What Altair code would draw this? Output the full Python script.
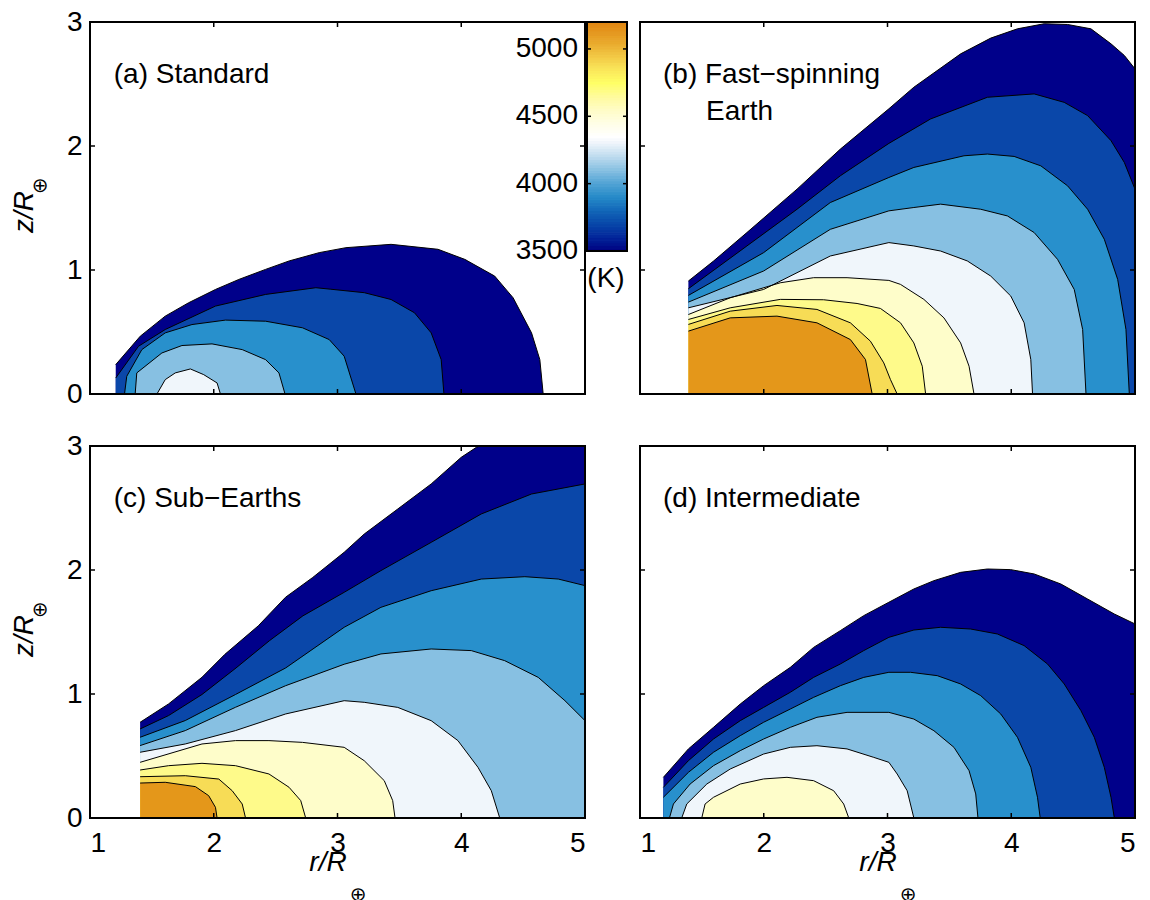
import altair as alt
import pandas as pd

FONT = "Liberation Sans"
FS = 28

LEVELS = [3500, 3700, 3900, 4100, 4300, 4500, 4700, 4900, 5100]
BAND_COLORS = ["#00008a", "#0a47a9", "#2890cc", "#87c0e2", "#f0f6fb",
               "#fefdca", "#fefa8a", "#f7dc56", "#e4971a"]

X_DOMAIN = [1, 5]
Y_DOMAIN = [0, 3]
X_TICKS = [1, 2, 3, 4, 5]
Y_TICKS = [0, 1, 2, 3]

# ---------------- panel (a) Standard ----------------
A3500_R = [1.208, 1.406, 1.608, 1.797, 2.014, 2.203, 2.419, 2.609, 2.852, 3.068, 3.433, 3.812, 4.028, 4.270, 4.419, 4.568, 4.635, 4.662]
A3500_Z = [0.237, 0.466, 0.628, 0.736, 0.843, 0.924, 1.005, 1.073, 1.140, 1.180, 1.207, 1.167, 1.086, 0.951, 0.776, 0.493, 0.277, 0.0]
A3700_R = [1.208, 1.392, 1.608, 2.014, 2.419, 2.825, 2.946, 3.217, 3.433, 3.622, 3.757, 3.838, 3.860]
A3700_Z = [0.129, 0.385, 0.520, 0.709, 0.803, 0.857, 0.845, 0.817, 0.762, 0.655, 0.493, 0.277, 0.0]
A3900_R = [1.279, 1.297, 1.419, 1.608, 1.824, 2.095, 2.419, 2.717, 2.933, 3.054, 3.149]
A3900_Z = [0.0, 0.143, 0.358, 0.493, 0.560, 0.596, 0.587, 0.534, 0.439, 0.305, 0.0]
A4100_R = [1.365, 1.378, 1.581, 1.743, 1.986, 2.230, 2.419, 2.527, 2.576]
A4100_Z = [0.0, 0.170, 0.331, 0.391, 0.404, 0.358, 0.277, 0.170, 0.0]
A4300_R = [1.541, 1.608, 1.689, 1.811, 1.919, 2.027, 2.054]
A4300_Z = [0.0, 0.116, 0.170, 0.202, 0.156, 0.089, 0.0]

# ---------------- panel (b) Fast-spinning Earth ----------------
B3500_R = [1.391, 1.594, 1.864, 2.269, 2.619, 3.011, 3.213, 3.591, 3.834, 4.050, 4.266, 4.455, 4.644, 4.806, 4.914, 5.0]
B3500_Z = [0.911, 1.072, 1.302, 1.652, 1.975, 2.300, 2.474, 2.743, 2.870, 2.945, 2.986, 2.980, 2.945, 2.824, 2.730, 2.622]
B3700_R = [1.391, 1.864, 2.269, 2.619, 3.011, 3.348, 3.807, 4.185, 4.428, 4.617, 4.806, 4.914, 5.0]
B3700_Z = [0.849, 1.194, 1.490, 1.760, 2.021, 2.218, 2.393, 2.420, 2.352, 2.245, 2.043, 1.867, 1.652]
B3900_R = [1.391, 1.999, 2.538, 3.011, 3.213, 3.618, 3.807, 4.023, 4.239, 4.455, 4.617, 4.752, 4.860, 4.927, 4.954]
B3900_Z = [0.795, 1.140, 1.544, 1.746, 1.827, 1.921, 1.935, 1.916, 1.840, 1.679, 1.490, 1.248, 0.924, 0.520, 0.0]
B4100_R = [1.391, 1.999, 2.538, 3.011, 3.213, 3.429, 3.753, 3.969, 4.185, 4.374, 4.509, 4.577, 4.604]
B4100_Z = [0.741, 0.992, 1.328, 1.477, 1.504, 1.531, 1.490, 1.436, 1.302, 1.086, 0.843, 0.520, 0.0]
B4300_R = [1.391, 1.999, 2.538, 3.011, 3.213, 3.429, 3.645, 3.834, 3.996, 4.104, 4.158, 4.172]
B4300_Z = [0.695, 0.843, 1.113, 1.221, 1.194, 1.153, 1.073, 0.951, 0.790, 0.574, 0.278, 0.0]
B4500_R = [1.391, 1.729, 2.134, 2.403, 2.673, 3.011, 3.105, 3.294, 3.456, 3.591, 3.659, 3.699]
B4500_Z = [0.641, 0.776, 0.897, 0.938, 0.938, 0.916, 0.884, 0.763, 0.614, 0.412, 0.224, 0.0]
B4700_R = [1.391, 1.729, 2.134, 2.484, 2.754, 2.943, 3.105, 3.213, 3.281, 3.308]
B4700_Z = [0.601, 0.695, 0.763, 0.760, 0.730, 0.690, 0.574, 0.412, 0.224, 0.0]
B4900_R = [1.391, 1.729, 2.107, 2.430, 2.700, 2.862, 2.970, 3.024, 3.078]
B4900_Z = [0.561, 0.668, 0.714, 0.682, 0.574, 0.426, 0.251, 0.116, 0.0]
B5100_R = [1.391, 1.729, 2.107, 2.430, 2.700, 2.822, 2.876]
B5100_Z = [0.507, 0.614, 0.628, 0.574, 0.439, 0.278, 0.0]

# ---------------- panel (c) Sub-Earths ----------------
C3500_R = [1.405, 1.635, 1.905, 2.090, 2.360, 2.580, 2.800, 3.054, 3.216, 3.487, 3.757, 4.000, 4.122, 4.150]
C3500_Z = [0.772, 0.920, 1.135, 1.320, 1.550, 1.780, 1.940, 2.143, 2.290, 2.492, 2.694, 2.909, 2.989, 3.0]
C3500_TOP_R = [5.0]
C3500_TOP_Z = [3.0]
C3700_R = [1.405, 1.635, 1.905, 2.180, 2.450, 2.720, 3.054, 3.351, 3.757, 4.162, 4.568, 5.0]
C3700_Z = [0.718, 0.826, 0.996, 1.210, 1.430, 1.630, 1.820, 1.995, 2.223, 2.452, 2.613, 2.694]
C3900_R = [1.405, 1.770, 2.176, 2.581, 3.054, 3.351, 3.757, 4.162, 4.514, 4.784, 5.0]
C3900_Z = [0.651, 0.786, 0.996, 1.210, 1.538, 1.699, 1.833, 1.927, 1.946, 1.927, 1.874]
C4100_R = [1.405, 1.770, 2.176, 2.581, 3.054, 3.351, 3.757, 4.081, 4.351, 4.622, 4.838, 5.0]
C4100_Z = [0.584, 0.705, 0.893, 1.067, 1.240, 1.323, 1.363, 1.350, 1.269, 1.134, 0.946, 0.785]
C4300_R = [1.405, 1.770, 2.176, 2.581, 3.054, 3.216, 3.487, 3.757, 3.973, 4.135, 4.243, 4.311]
C4300_Z = [0.530, 0.597, 0.705, 0.839, 0.946, 0.933, 0.892, 0.785, 0.624, 0.409, 0.220, 0.0]
C4500_R = [1.405, 1.905, 2.176, 2.446, 2.717, 3.054, 3.216, 3.378, 3.446, 3.465]
C4500_Z = [0.449, 0.597, 0.624, 0.624, 0.610, 0.570, 0.462, 0.301, 0.140, 0.0]
C4700_R = [1.405, 1.635, 1.905, 2.176, 2.446, 2.608, 2.703, 2.743]
C4700_Z = [0.387, 0.422, 0.441, 0.422, 0.355, 0.248, 0.140, 0.0]
C4900_R = [1.405, 1.770, 2.041, 2.149, 2.230, 2.257]
C4900_Z = [0.333, 0.341, 0.314, 0.220, 0.113, 0.0]
C5100_R = [1.405, 1.608, 1.852, 1.959, 2.014, 2.027]
C5100_Z = [0.282, 0.288, 0.253, 0.180, 0.086, 0.0]

# ---------------- panel (d) Intermediate ----------------
D3500_R = [1.189, 1.391, 1.594, 1.810, 1.999, 2.215, 2.403, 2.619, 2.808, 3.011, 3.213, 3.375, 3.591, 3.807, 3.996, 4.185, 4.401, 4.617, 4.833, 5.0]
D3500_Z = [0.328, 0.557, 0.731, 0.919, 1.067, 1.215, 1.376, 1.511, 1.632, 1.740, 1.847, 1.914, 1.981, 2.008, 2.003, 1.968, 1.887, 1.766, 1.645, 1.565]
D3700_R = [1.189, 1.391, 1.594, 1.810, 1.999, 2.215, 2.403, 2.619, 2.808, 3.011, 3.213, 3.429, 3.672, 3.888, 4.104, 4.293, 4.428, 4.563, 4.671, 4.752, 4.806, 4.833]
D3700_Z = [0.247, 0.462, 0.637, 0.785, 0.892, 1.014, 1.134, 1.242, 1.350, 1.457, 1.516, 1.538, 1.524, 1.484, 1.390, 1.242, 1.081, 0.866, 0.651, 0.409, 0.167, 0.0]
D3900_R = [1.189, 1.391, 1.594, 1.810, 1.999, 2.215, 2.403, 2.619, 2.808, 3.011, 3.186, 3.402, 3.591, 3.753, 3.915, 4.050, 4.158, 4.212, 4.234]
D3900_Z = [0.167, 0.368, 0.530, 0.664, 0.772, 0.879, 0.973, 1.067, 1.134, 1.175, 1.175, 1.148, 1.081, 0.987, 0.839, 0.651, 0.409, 0.167, 0.0]
D4100_R = [1.238, 1.270, 1.405, 1.594, 1.810, 1.999, 2.215, 2.430, 2.673, 3.011, 3.213, 3.375, 3.537, 3.659, 3.713, 3.731]
D4100_Z = [0.0, 0.113, 0.274, 0.422, 0.543, 0.637, 0.731, 0.812, 0.852, 0.852, 0.798, 0.704, 0.570, 0.382, 0.194, 0.0]
D4300_R = [1.337, 1.378, 1.540, 1.729, 1.999, 2.215, 2.430, 2.673, 2.889, 3.011, 3.078, 3.159, 3.213]
D4300_Z = [0.0, 0.113, 0.274, 0.395, 0.516, 0.570, 0.583, 0.557, 0.489, 0.449, 0.355, 0.220, 0.0]
D4500_R = [1.499, 1.526, 1.594, 1.810, 1.999, 2.188, 2.403, 2.565, 2.646, 2.687]
D4500_Z = [0.0, 0.113, 0.167, 0.274, 0.315, 0.328, 0.301, 0.220, 0.113, 0.0]

# ---------------- colour bar ----------------
CB_RANGE = [3500, 5200]
CB_TICKS = [3500, 4000, 4500, 5000]
CB_LABELS = ["3500", "4000", "4500", "5000"]
CB_STOP_T = [3500, 3600, 3700, 3800, 3900, 4000, 4100, 4200, 4300, 4350, 4450,
             4550, 4650, 4750, 4850, 4950, 5050, 5200]
CB_STOP_C = ["#000080", "#02259a", "#0846a8", "#1266b8", "#2589c8", "#50a2d4",
             "#86bfe1", "#bcdaee", "#edf3fa", "#ffffff", "#fffee6", "#fffcc6",
             "#fffb9c", "#ffff66", "#fae65a", "#f2c845", "#e9a92c", "#e08612"]
CB_STEP = 20
CB_UNIT = "(K)"

PANEL_LABELS = {
    "a": (["(a) Standard"], [1.192], [2.509]),
    "b": (["(b) Fast\u2212spinning", "Earth"], [1.186, 1.534], [2.509, 2.213]),
    "c": (["(c) Sub\u2212Earths"], [1.192], [2.506]),
    "d": (["(d) Intermediate"], [1.186], [2.506]),
}
X_TITLE = "r/R"
Y_TITLE = "z/R"
SUBSCRIPT = "\u2295"

W, H = 495, 372
XS = alt.Scale(domain=X_DOMAIN, nice=False, zero=False)
YS = alt.Scale(domain=Y_DOMAIN, nice=False, zero=False)


def axes(show_x, show_y):
    xa = alt.Axis(values=X_TICKS, labels=show_x, ticks=False, tickSize=0, domain=False,
                  grid=False, title=None, labelFontSize=FS, labelPadding=11,
                  format="d", labelFont=FONT, labelColor="black")
    ya = alt.Axis(values=Y_TICKS, labels=show_y, ticks=False, tickSize=0, domain=False,
                  grid=False, title=None, labelFontSize=FS, labelPadding=8,
                  format="d", labelFont=FONT, labelColor="black")
    return xa, ya


def panel(contours, key, show_x, show_y, top_extra=None, xtitle=False, ytitle=False):
    xa, ya = axes(show_x, show_y)
    layers = []
    lines = []
    for lev, rr, zz in contours:
        col = BAND_COLORS[LEVELS.index(lev)]
        ar, az = list(rr), list(zz)
        if top_extra and lev in top_extra:
            ar += top_extra[lev][0]
            az += top_extra[lev][1]
        adf = pd.DataFrame({"r": ar, "z": az})
        layers.append(
            alt.Chart(adf).mark_area(fill=col, strokeWidth=0, opacity=1).encode(
                x=alt.X("r:Q", scale=XS, axis=xa),
                y=alt.Y("z:Q", scale=YS, axis=ya, stack=None),
                y2=alt.Y2(datum=0),
            )
        )
        for i, (r, z) in enumerate(zip(rr, zz)):
            lines.append({"r": r, "z": z, "lev": lev, "i": i})
    ldf = pd.DataFrame(lines)
    layers.append(
        alt.Chart(ldf).mark_line(color="black", strokeWidth=1).encode(
            x=alt.X("r:Q", scale=XS, axis=xa),
            y=alt.Y("z:Q", scale=YS, axis=ya),
            detail="lev:N",
            order="i:Q",
        )
    )
    # ticks (inward)
    xt = pd.DataFrame({"t": X_TICKS})
    yt = pd.DataFrame({"t": Y_TICKS})
    layers.append(alt.Chart(xt).mark_rule(color="black", strokeWidth=1.5).encode(
        x=alt.X("t:Q", scale=XS, axis=xa), y=alt.value(H), y2=alt.value(H - 5)))
    layers.append(alt.Chart(xt).mark_rule(color="black", strokeWidth=1.5).encode(
        x=alt.X("t:Q", scale=XS, axis=xa), y=alt.value(0), y2=alt.value(5)))
    layers.append(alt.Chart(yt).mark_rule(color="black", strokeWidth=1.5).encode(
        y=alt.Y("t:Q", scale=YS, axis=ya), x=alt.value(0), x2=alt.value(5)))
    layers.append(alt.Chart(yt).mark_rule(color="black", strokeWidth=1.5).encode(
        y=alt.Y("t:Q", scale=YS, axis=ya), x=alt.value(W), x2=alt.value(W - 5)))
    # frame
    fdf = pd.DataFrame({"x1": [X_DOMAIN[0]], "x2": [X_DOMAIN[1]],
                        "y1": [Y_DOMAIN[0]], "y2": [Y_DOMAIN[1]]})
    layers.append(alt.Chart(fdf).mark_rect(filled=False, stroke="black", strokeWidth=2).encode(
        x=alt.X("x1:Q", scale=XS, axis=xa), x2="x2:Q",
        y=alt.Y("y1:Q", scale=YS, axis=ya), y2="y2:Q"))
    # panel label
    txt, lr, lz = PANEL_LABELS[key]
    tdf = pd.DataFrame({"t": txt, "r": lr, "z": lz})
    layers.append(alt.Chart(tdf).mark_text(align="left", baseline="alphabetic", fontSize=FS,
                                           font=FONT, color="black").encode(
        x=alt.X("r:Q", scale=XS, axis=xa), y=alt.Y("z:Q", scale=YS, axis=ya), text="t:N"))
    if ytitle:
        ydf = pd.DataFrame({"t": [Y_TITLE]})
        sdf = pd.DataFrame({"t": [SUBSCRIPT]})
        layers.append(alt.Chart(ydf).mark_text(angle=270, align="center", baseline="alphabetic",
                                               fontSize=FS, font=FONT, fontStyle="italic",
                                               color="black").encode(
            x=alt.value(-57), y=alt.value(190), text="t:N"))
        layers.append(alt.Chart(sdf).mark_text(align="center", baseline="middle", fontSize=20,
                                               font="DejaVu Sans", color="black").encode(
            x=alt.value(-50), y=alt.value(164), text="t:N"))
    if xtitle:
        xdf = pd.DataFrame({"t": [X_TITLE]})
        sdf = pd.DataFrame({"t": [SUBSCRIPT]})
        layers.append(alt.Chart(xdf).mark_text(align="center", baseline="alphabetic",
                                               fontSize=FS, font=FONT, fontStyle="italic",
                                               color="black").encode(
            x=alt.value(238), y=alt.value(H + 53), text="t:N"))
        layers.append(alt.Chart(sdf).mark_text(align="center", baseline="middle", fontSize=20,
                                               font="DejaVu Sans", color="black").encode(
            x=alt.value(268), y=alt.value(H + 77), text="t:N"))
    return alt.layer(*layers)


def colorbar():
    lo = list(range(CB_RANGE[0], CB_RANGE[1], CB_STEP))
    cdf = pd.DataFrame({"lo": lo, "hi": [v + CB_STEP for v in lo], "mid": [v + CB_STEP / 2 for v in lo]})
    ys = alt.Scale(domain=CB_RANGE, range=[229, 0], nice=False, zero=False)
    cs = alt.Scale(domain=CB_STOP_T, range=CB_STOP_C, type="linear", interpolate="rgb")
    x0, x1 = 497, 537
    rects = alt.Chart(cdf).mark_rect(strokeWidth=1).encode(
        x=alt.value(x0), x2=alt.value(x1),
        y=alt.Y("lo:Q", scale=ys, axis=None), y2="hi:Q",
        color=alt.Color("mid:Q", scale=cs, legend=None),
        stroke=alt.Stroke("mid:Q", scale=cs, legend=None))
    fdf = pd.DataFrame({"lo": [CB_RANGE[0]], "hi": [CB_RANGE[1]]})
    frame = alt.Chart(fdf).mark_rect(filled=False, stroke="black", strokeWidth=2).encode(
        x=alt.value(x0), x2=alt.value(x1),
        y=alt.Y("lo:Q", scale=ys, axis=None), y2="hi:Q")
    tdf = pd.DataFrame({"t": CB_TICKS, "lab": CB_LABELS})
    tl = alt.Chart(tdf).mark_rule(color="black", strokeWidth=1.5).encode(
        x=alt.value(x0), x2=alt.value(x0 + 4), y=alt.Y("t:Q", scale=ys, axis=None))
    tr = alt.Chart(tdf).mark_rule(color="black", strokeWidth=1.5).encode(
        x=alt.value(x1 - 4), x2=alt.value(x1), y=alt.Y("t:Q", scale=ys, axis=None))
    labs = alt.Chart(tdf).mark_text(align="right", baseline="middle", fontSize=FS, font=FONT,
                                    color="black").encode(
        x=alt.value(488), y=alt.Y("t:Q", scale=ys, axis=None), text="lab:N")
    udf = pd.DataFrame({"t": [CB_UNIT]})
    unit = alt.Chart(udf).mark_text(align="center", baseline="middle", fontSize=FS, font=FONT,
                                    color="black").encode(
        x=alt.value(516), y=alt.value(257), text="t:N")
    return alt.layer(rects, frame, tl, tr, labs, unit)


A = [(3500, A3500_R, A3500_Z), (3700, A3700_R, A3700_Z), (3900, A3900_R, A3900_Z),
     (4100, A4100_R, A4100_Z), (4300, A4300_R, A4300_Z)]
B = [(3500, B3500_R, B3500_Z), (3700, B3700_R, B3700_Z), (3900, B3900_R, B3900_Z),
     (4100, B4100_R, B4100_Z), (4300, B4300_R, B4300_Z), (4500, B4500_R, B4500_Z),
     (4700, B4700_R, B4700_Z), (4900, B4900_R, B4900_Z), (5100, B5100_R, B5100_Z)]
C = [(3500, C3500_R, C3500_Z), (3700, C3700_R, C3700_Z), (3900, C3900_R, C3900_Z),
     (4100, C4100_R, C4100_Z), (4300, C4300_R, C4300_Z), (4500, C4500_R, C4500_Z),
     (4700, C4700_R, C4700_Z), (4900, C4900_R, C4900_Z), (5100, C5100_R, C5100_Z)]
D = [(3500, D3500_R, D3500_Z), (3700, D3700_R, D3700_Z), (3900, D3900_R, D3900_Z),
     (4100, D4100_R, D4100_Z), (4300, D4300_R, D4300_Z), (4500, D4500_R, D4500_Z)]

pa_main = panel(A, "a", show_x=False, show_y=True, ytitle=True)
pa = alt.layer(pa_main, colorbar()).resolve_scale(
    x="independent", y="independent", color="independent",
    stroke="independent").properties(width=W, height=H)
pb = panel(B, "b", show_x=False, show_y=False).properties(width=W, height=H)
pc = panel(C, "c", show_x=True, show_y=True, xtitle=True, ytitle=True,
           top_extra={3500: (C3500_TOP_R, C3500_TOP_Z)}).properties(width=W, height=H)
pd_ = panel(D, "d", show_x=True, show_y=False, xtitle=True).properties(width=W, height=H)

chart = alt.concat(pa, pb, pc, pd_, columns=2, spacing={"row": 52, "column": 55},
                   bounds="flush").properties(
    padding={"left": 3, "top": 0, "right": 0, "bottom": 0}
).configure_view(strokeWidth=0)

chart.save("out.html", embed_options={"renderer": "svg", "actions": False})
